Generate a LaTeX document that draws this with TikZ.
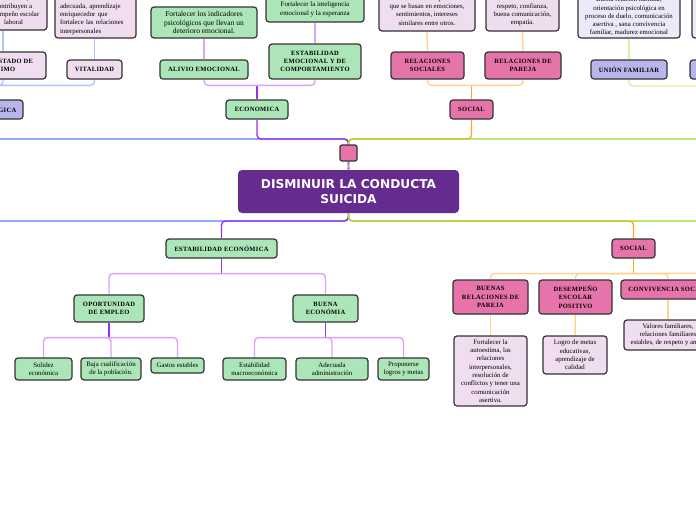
\documentclass[tikz,border=0pt]{standalone}
\usepackage{fontspec}
\setmainfont{Liberation Serif}
\newfontfamily\ttl{Liberation Serif}[LetterSpace=5]
\newfontfamily\cfont{DejaVu Sans}
\usetikzlibrary{arrows.meta}
\pgfdeclarelayer{bg}
\pgfdeclarelayer{paper}
\pgfsetlayers{paper,bg,main}
\definecolor{grn}{HTML}{ABE5B8}
\definecolor{lav}{HTML}{F0DEF0}
\definecolor{pnk}{HTML}{E674AA}
\definecolor{vio}{HTML}{662B8F}
\definecolor{bpur}{HTML}{B7B5EA}
\definecolor{lavb}{HTML}{ECEAF8}
\definecolor{bord}{HTML}{333333}
\definecolor{cblu}{HTML}{4D7DF5}
\definecolor{lblu}{HTML}{A9C6FF}
\definecolor{cpur}{HTML}{9B30F0}
\definecolor{lpur}{HTML}{D9A3FF}
\definecolor{cora}{HTML}{FFA726}
\definecolor{lora}{HTML}{FFD28F}
\definecolor{cgrn}{HTML}{9ADB2E}
\definecolor{lgrn}{HTML}{CFF5A3}
\definecolor{mk}{HTML}{A98BD0}
\tikzset{
  bx/.style={draw=bord, line width=1.2pt, rounded corners=3pt, inner sep=0pt, align=center, text=black},
  gbox/.style={bx, fill=grn},
  lbox/.style={bx, fill=lav},
  pbox/.style={bx, fill=pnk},
  ubox/.style={bx, fill=bpur},
  vbox/.style={bx, fill=lavb},
  ttlf/.style={font=\ttl\bfseries\fontsize{6.5}{8.3}\selectfont},
  txtf/.style={font=\fontsize{6.8}{8.3}\selectfont},
  conn/.style={line width=1.4pt, rounded corners=4pt},
}
% #1 style, #2 name, #3 x1, #4 y1, #5 x2, #6 y2, #7 text
\newcommand\nbox[7]{\node[#1,minimum width={(#5)-(#3)},minimum height={(#6)-(#4)}] (#2) at ({((#3)+(#5))/2},{((#4)+(#6))/2}) {#7};}
\begin{document}
\begin{tikzpicture}[x=1pt,y=-1pt]
\useasboundingbox (0,0) rectangle (696,520);
\begin{pgfonlayer}{paper}
\fill[white] (0,0) rectangle (696,520);
\end{pgfonlayer}
% ---- top left
\nbox{lbox,txtf}{tla}{-20}{-10}{47}{30}{intelectual y\\contribuyen a\\desempeño escolar\\laboral}
\nbox{lbox,txtf,align=left,text width=71pt}{tlb}{55}{-8}{136}{38}{Alimentación sana\\adecuada, aprendizaje\\enriquecedor que\\fortalece las relaciones\\interpersonales}
\nbox{lbox,ttlf}{estado}{-40}{52}{46}{79}{BUEN ESTADO DE\\ÁNIMO}
\nbox{lbox,ttlf}{vital}{67}{60}{122}{79}{VITALIDAD}
\nbox{ubox,ttlf}{gica}{-40}{100}{23}{119}{PSICOLÓGICA}
% ---- economica (top)
\nbox{gbox,font=\fontsize{7.5}{8.4}\selectfont}{fo1}{151}{7}{257}{38}{Fortalecer los indicadores\\psicológicos que llevan un\\deterioro emocional.}
\nbox{gbox,font=\fontsize{6.9}{8.6}\selectfont}{fo2}{266}{-3}{364}{22}{Fortalecer la inteligencia\\emocional y la esperanza}
\nbox{gbox,ttlf}{aliv}{160}{60}{248}{79}{ALIVIO EMOCIONAL}
\nbox{gbox,ttlf}{estemo}{269}{44}{361}{79}{ESTABILIDAD\\EMOCIONAL Y DE\\COMPORTAMIENTO}
\nbox{gbox,ttlf}{eco}{226}{100}{288}{119}{ECONOMICA}
% ---- social (top)
\nbox{lbox,txtf}{rsx}{379}{-10}{475}{31}{Relaciones entre personas\\que se basan en emociones,\\sentimientos, intereses\\similares entre otros.}
\nbox{lbox,txtf}{rpx}{486}{-10}{559}{31}{fundamentada en el\\respeto, confianza,\\buena comunicación,\\empatía.}
\nbox{pbox,ttlf}{rs}{391}{52}{464}{79}{RELACIONES\\SOCIALES}
\nbox{pbox,ttlf}{rp}{485}{52}{561}{79}{RELACIONES DE\\PAREJA}
\nbox{pbox,ttlf}{soc1}{450}{100}{493}{119}{SOCIAL}
% ---- familiar (top right)
\nbox{vbox,txtf}{ufx}{578}{-5}{680}{38}{Buena relación familiar,\\orientación psicológica en\\proceso de duelo, comunicación\\asertiva , sana convivencia\\familiar, madurez emocional}
\nbox{ubox,ttlf}{unf}{591}{60}{667}{79}{UNIÓN FAMILIAR}
\nbox{ubox}{ur}{690}{60}{760}{79}{}
\nbox{vbox}{urx}{692}{-5}{760}{38}{}
% ---- centre
\node[fill=vio, rounded corners=4pt, minimum width=221pt, minimum height=43pt, text=white,
  font=\cfont\bfseries\fontsize{12.2}{15}\selectfont, align=center] (ctr) at (348.5,191.5) {DISMINUIR LA CONDUCTA\\SUICIDA};
\node[draw=bord, fill=pnk, line width=1.2pt, rounded corners=2pt, minimum width=17pt, minimum height=16pt, inner sep=0pt] (sq) at (348.5,153) {};
\draw[{Stealth[length=2pt,width=3.5pt]}-{Stealth[length=2pt,width=3.5pt]}, draw=mk, line width=0.5pt] (sq.south) -- (ctr.north);
% ---- bottom economica
\nbox{gbox,ttlf}{estec}{166}{239}{277}{258}{ESTABILIDAD ECONÓMICA}
\nbox{gbox,ttlf}{oport}{74}{295}{144}{322}{OPORTUNIDAD\\DE EMPLEO}
\nbox{gbox,ttlf}{buena}{293}{295}{358}{322}{BUENA\\ECONÓMIA}
\nbox{gbox,txtf}{sol}{15}{358}{72}{380}{Solidez\\económica}
\nbox{gbox,txtf}{baja}{81}{358}{141}{380}{Baja cualificación\\de la población.}
\nbox{gbox,txtf}{gas}{151}{358}{204}{373}{Gastos estables}
\nbox{gbox,txtf}{est}{223}{358}{286}{380}{Estabilidad\\macroeconómica}
\nbox{gbox,txtf}{ade}{296}{358}{368}{380}{Adecuada\\administración}
\nbox{gbox,txtf}{pro}{378}{358}{429}{380}{Proponerse\\logros y metas}
% ---- bottom social
\nbox{pbox,ttlf}{soc2}{612}{239}{655}{258}{SOCIAL}
\nbox{pbox,ttlf}{bup}{453}{280}{528}{314}{BUENAS\\RELACIONES DE\\PAREJA}
\nbox{pbox,ttlf}{des}{539}{280}{612}{314}{DESEMPEÑO\\ESCOLAR\\POSITIVO}
\nbox{pbox,ttlf}{conv}{621}{280}{715}{299}{CONVIVENCIA SOCIAL}
\nbox{lbox,txtf}{fa}{454}{336}{527}{406}{Fortalecer la\\autoestima, las\\relaciones\\interpersonales,\\resolución de\\conflictos y tener una\\comunicación\\asertiva.}
\nbox{lbox,txtf}{logro}{543}{336}{607}{374}{Logro de metas\\educativas,\\aprendizaje de\\calidad}
\nbox{lbox,txtf}{val}{624}{320}{712}{350}{Valores familiares,\\relaciones familiares\\estables, de respeto y amor.}
% ---- free ends
\coordinate (ytop) at (0,139);
\coordinate (ybot) at (0,221);
\coordinate (eR1) at (740,139);
\coordinate (eL2) at (-60,221);
\coordinate (eR2) at (740,221);
\coordinate (eR3) at (740,86);
\coordinate (eR4) at (740,273);
\begin{pgfonlayer}{bg}
\draw[conn,cblu] (ctr.center) -- (ctr.center |- ytop) -| (gica.south);
\draw[conn,cblu] (ctr.center) -- (ctr.center |- ybot) -- (eL2);
\draw[conn,cpur] (ctr.center) -- (ctr.center |- ytop) -| (eco.south);
\draw[conn,cpur] (ctr.center) -- (ctr.center |- ybot) -| (estec.north);
\draw[conn,cora] (ctr.center) -- (ctr.center |- ytop) -| (soc1.south);
\draw[conn,cora] (ctr.center) -- (ctr.center |- ybot) -| (soc2.north);
\draw[conn,cgrn] (ctr.center) -- (ctr.center |- ytop) -- (eR1);
\draw[conn,cgrn] (ctr.center) -- (ctr.center |- ybot) -- (eR2);
% top economica
\draw[conn,cpur] (eco.north) -- ++(0,-14) coordinate (jeco);
\draw[conn,lpur] (jeco) -| (aliv.south);
\draw[conn,lpur] (jeco) -| (estemo.south);
\draw[conn,lpur] (aliv.north) -- (fo1.south);
\draw[conn,lpur] (estemo.north) -- (fo2.south);
% top social
\draw[conn,cora] (soc1.north) -- ++(0,-14) coordinate (jso);
\draw[conn,lora] (jso) -| (rs.south);
\draw[conn,lora] (jso) -| (rp.south);
\draw[conn,lora] (rs.north) -- (rsx.south);
\draw[conn,lora] (rp.north) -- (rpx.south);
% top left
\draw[conn,cblu] (gica.north) -- ++(0,-14) coordinate (jg);
\draw[conn,lblu] (jg) -| (vital.south);
\draw[conn,lblu] (jg) -| (estado.south);
\draw[conn,lblu] (estado.north) -- (estado.north |- tla.south);
\draw[conn,lblu] (vital.north) -- (vital.north |- tlb.south);
% top right
\draw[conn,lgrn] (unf.south) |- (eR3);
\draw[conn,lgrn] (unf.north) -- (ufx.south);
% bottom economica
\draw[conn,cpur] (estec.south) -- ++(0,15) coordinate (jes);
\draw[conn,lpur] (jes) -| (oport.north);
\draw[conn,lpur] (jes) -| (buena.north);
\draw[conn,cpur] (oport.south) -- ++(0,15) coordinate (jop);
\draw[conn,lpur] (jop) -| (sol.north);
\draw[conn,lpur] (jop) -| (baja.north);
\draw[conn,lpur] (jop) -| (gas.north);
\draw[conn,cpur] (buena.south) -- ++(0,15) coordinate (jbu);
\draw[conn,lpur] (jbu) -| (est.north);
\draw[conn,lpur] (jbu) -| (ade.north);
\draw[conn,lpur] (jbu) -| (pro.north);
% bottom social
\draw[conn,cora] (soc2.south) -- ++(0,15) coordinate (jsb);
\draw[conn,lora] (jsb) -| (bup.north);
\draw[conn,lora] (jsb) -| (des.north);
\draw[conn,lora] (jsb) -| (conv.north);
\draw[conn,lora] (jsb) -- (eR4);
\draw[conn,lora] (bup.south) -- (fa.north);
\draw[conn,lora] (des.south) -- (logro.north);
\draw[conn,lora] (conv.south) -- (val.north);
\end{pgfonlayer}
\end{tikzpicture}
\end{document}
